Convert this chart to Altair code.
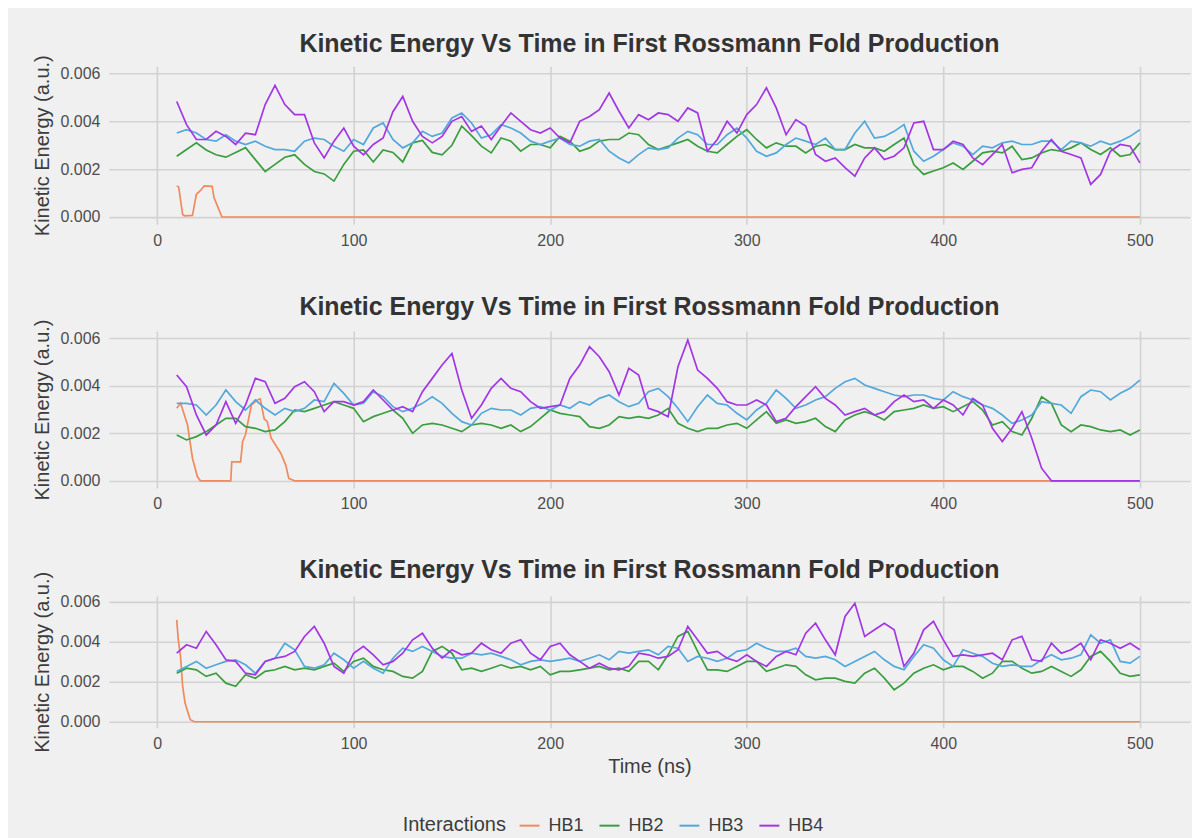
import altair as alt
import pandas as pd

TITLE = "Kinetic Energy Vs Time in First Rossmann Fold Production"
SERIES = ["HB1", "HB2", "HB3", "HB4"]
COLORS = ["#F08A5D", "#3A9E3F", "#52A8DC", "#A336E4"]
X_TICKS = [0, 100, 200, 300, 400, 500]
Y_TICKS = [0, 0.002, 0.004, 0.006]

# time axis (ns) shared by HB2..HB4
T = list(range(10, 501, 5))

# values in units of 1e-3 (a.u.)
# ---------- panel 1 ----------
P1_HB1_T = [10, 11, 13, 14, 18, 20, 22, 24, 28, 29, 31, 33, 500]
P1_HB1_V = [1.3, 1.25, 0.1, 0.05, 0.07, 0.95, 1.1, 1.3, 1.28, 0.8, 0.4, 0, 0]
P1_HB2 = [2.54, 2.82, 3.1, 2.8, 2.6, 2.5, 2.7, 2.9, 2.4, 1.9, 2.2, 2.5, 2.6, 2.2, 1.9, 1.8, 1.5, 2.2, 2.75, 2.8,
          2.3, 2.8, 2.7, 2.3, 3.1, 3.2, 2.7, 2.6, 3.0, 3.8, 3.4,
          2.96, 2.68, 3.3, 3.17, 2.75, 3.03, 3.03, 2.89, 3.37, 3.17, 2.75, 2.89, 3.17, 3.24, 3.24, 3.51, 3.44,
          3.03, 2.82, 2.96, 3.1, 3.24, 2.96, 2.75, 2.68, 3.03, 3.37, 3.65, 3.24, 2.89, 3.1, 2.96, 2.96, 2.68,
          2.96, 3.03, 2.82, 2.82, 3.03, 2.89, 2.89, 2.75, 3.03, 3.3, 2.19, 1.78, 1.92, 2.06, 2.26, 1.99, 2.33,
          2.68, 2.75, 2.68, 2.96, 2.4, 2.47, 2.68, 2.82, 2.75, 2.89, 3.1, 2.82, 2.61, 2.89, 2.54, 2.61, 3.1]
P1_HB3 = [3.51, 3.65, 3.51, 3.24, 3.17, 3.44, 3.17, 3.03, 3.17, 2.96, 2.82, 2.82, 2.75, 3.17, 3.3, 3.24, 2.96,
          2.75, 3.24, 3.03, 3.72, 3.93, 3.24, 2.89, 3.1, 3.58, 3.37, 3.51, 4.14, 4.35, 3.93,
          3.3, 3.44, 3.86, 3.72, 3.51, 3.17, 3.03, 3.17, 3.3, 3.03, 2.96, 3.17, 3.24, 2.75, 2.47, 2.26, 2.61,
          2.89, 2.82, 2.89, 3.3, 3.58, 3.44, 3.03, 3.03, 3.44, 3.72, 3.3, 2.75, 2.54, 2.68, 3.03, 3.3, 3.17,
          3.03, 3.3, 2.82, 2.82, 3.51, 4.0, 3.3, 3.37, 3.58, 3.86, 2.75, 2.33, 2.54, 2.82, 3.1, 2.96, 2.61,
          2.96, 2.89, 3.1, 3.17, 3.03, 3.03, 3.17, 3.17, 2.82, 3.17, 3.1, 2.96, 3.17, 3.03, 3.17, 3.37, 3.65]
P1_HB4 = [4.83, 3.86, 3.24, 3.24, 3.58, 3.37, 3.03, 3.5, 3.44, 4.7, 5.5, 4.7, 4.28, 4.28, 3.1, 2.47, 3.17,
          3.72, 2.96, 2.6, 3.03, 3.3, 4.4, 5.04, 4.0, 3.37, 3.1, 3.37, 4.0, 4.2, 3.58,
          3.8, 3.24, 3.8, 4.35, 4.0, 3.65, 3.51, 3.72, 3.3, 3.1, 4.0, 4.2, 4.49, 5.18, 4.42, 3.72, 4.28,
          4.07, 4.35, 4.28, 4.0, 4.56, 4.35, 2.75, 3.24, 4.0, 3.51, 4.28, 4.7, 5.4, 4.56, 3.44, 4.07, 3.8,
          2.61, 2.33, 2.47, 2.06, 1.71, 2.47, 2.89, 2.4, 2.54, 2.89, 3.93, 4.0, 2.82, 2.82, 3.17, 3.03, 2.47,
          2.19, 2.61, 3.03, 1.85, 1.99, 2.06, 2.75, 3.24, 2.75, 2.61, 2.47, 1.36, 1.78, 2.75, 3.03, 2.96, 2.26]

# ---------- panel 2 ----------
P2_HB1_T = [10, 12, 15.5, 18, 20.5, 22, 37.5, 38, 42.5, 43.5, 45, 48, 51, 52.5, 54.5, 56, 58, 63, 65.5, 67, 70, 500]
P2_HB1_V = [3.05, 3.26, 2.35, 0.95, 0.18, 0, 0, 0.8, 0.8, 1.65, 1.95, 3.2, 3.4, 3.45, 2.6, 2.5, 1.8, 1.15,
            0.65, 0.1, 0, 0]
P2_HB2 = [1.93, 1.72, 1.86, 2.07, 2.35, 2.63, 2.63, 2.28, 2.21, 2.07, 2.14, 2.49, 2.98, 2.91, 3.05, 3.19, 3.33,
          3.19, 3.05, 2.49, 2.7, 2.84, 2.98, 2.63, 2.0, 2.35, 2.42, 2.35, 2.21, 2.07, 2.35, 2.42, 2.35, 2.21,
          2.35, 2.07, 2.28, 2.63, 2.98, 2.84, 2.77, 2.7, 2.28, 2.21, 2.35, 2.7, 2.63, 2.7,
          2.63, 2.77, 3.05, 2.42, 2.21, 2.07, 2.21, 2.21, 2.35, 2.42, 2.21, 2.56, 2.91, 2.42, 2.56, 2.42, 2.49,
          2.63, 2.28, 2.07, 2.56, 2.77, 2.91, 2.77, 2.56, 2.91, 2.98, 3.05, 3.19, 3.05, 3.12, 2.91, 3.12, 3.33,
          2.98, 2.35, 2.49, 2.07, 1.93, 2.63, 3.54, 3.26, 2.35, 2.07, 2.35, 2.28, 2.14, 2.07, 2.14, 1.93, 2.14]
P2_HB3 = [3.26, 3.26, 3.19, 2.77, 3.19, 3.82, 3.33, 2.98, 3.4, 3.05, 2.77, 3.05, 2.91, 3.05, 3.4, 3.33, 4.1,
          3.68, 3.19, 3.26, 3.75, 3.54, 3.12, 2.91, 3.05, 3.26, 3.54, 3.26, 2.84, 2.49, 2.35, 2.84, 3.05, 2.98,
          2.98, 2.77, 3.05, 3.12, 2.98, 3.19, 3.05, 3.33, 3.19, 3.47, 3.61, 3.33, 3.12, 3.26,
          3.75, 3.89, 3.54, 3.05, 2.49, 3.12, 3.61, 3.26, 3.19, 2.84, 2.56, 2.98, 3.26, 3.82, 3.47, 3.05, 3.19,
          3.4, 3.54, 3.89, 4.17, 4.31, 4.03, 3.89, 3.75, 3.61, 3.54, 3.61, 3.61, 3.47, 3.4, 3.75, 3.54, 3.4,
          3.19, 3.05, 2.77, 2.42, 2.56, 2.77, 3.33, 3.26, 3.19, 2.84, 3.54, 3.82, 3.75, 3.4, 3.68, 3.89, 4.24]
P2_HB4 = [4.45, 3.96, 2.77, 1.93, 2.35, 3.33, 2.42, 3.19, 4.31, 4.17, 3.26, 3.47, 3.96, 4.17, 3.75, 2.91, 3.33,
          3.33, 3.19, 3.33, 3.82, 3.4, 2.98, 3.12, 2.91, 3.75, 4.31, 4.87, 5.36, 3.82, 2.63, 3.19, 3.89, 4.31,
          3.89, 3.75, 3.33, 3.05, 3.12, 3.19, 4.31, 4.87, 5.64, 5.22, 4.59, 3.61, 4.73, 4.45,
          3.05, 2.91, 2.7, 4.8, 5.92, 4.66, 4.31, 3.89, 3.33, 3.19, 3.19, 3.4, 3.19, 2.49, 2.63, 3.12, 3.54,
          3.96, 3.47, 3.19, 2.77, 2.91, 3.05, 2.77, 2.91, 3.33, 3.61, 3.33, 3.4, 3.05, 3.4, 3.19, 2.77, 3.47,
          3.19, 2.21, 1.65, 2.21, 2.91, 1.79, 0.53, 0, 0, 0, 0, 0, 0, 0, 0, 0, 0]

# ---------- panel 3 ----------
P3_HB1_T = [10, 10.8, 11.9, 13, 14.2, 15.6, 16.9, 19, 500]
P3_HB1_V = [5.1, 4.1, 3.3, 1.8, 0.95, 0.5, 0.1, 0, 0]
P3_HB2 = [2.43, 2.68, 2.6, 2.27, 2.43, 1.93, 1.77, 2.35, 2.18, 2.52, 2.6, 2.77, 2.6, 2.68, 2.6, 2.77, 2.93,
          2.52, 3.02, 3.18, 2.77, 2.6, 2.52, 2.27, 2.18, 2.52, 3.52, 3.77, 3.43, 2.6, 2.68, 2.52, 2.68, 2.85,
          2.68, 2.77, 2.6, 2.77, 2.35, 2.52, 2.52, 2.6, 2.68, 2.77, 2.6, 2.68, 2.52, 3.02,
          3.02, 2.6, 3.35, 4.27, 4.52, 3.52, 2.6, 2.6, 2.52, 2.77, 3.02, 3.02, 2.52, 2.68, 2.85, 2.77, 2.35,
          2.1, 2.18, 2.18, 2.02, 1.93, 2.43, 2.68, 2.18, 1.6, 1.93, 2.43, 2.68, 2.85, 2.6, 2.77, 2.77, 2.52,
          2.18, 2.43, 3.02, 3.02, 2.68, 2.43, 2.52, 2.77, 2.52, 2.27, 2.6, 3.27, 3.52, 3.02, 2.43, 2.27, 2.35]
P3_HB3 = [2.52, 2.77, 3.02, 2.68, 2.85, 3.02, 3.1, 2.85, 2.43, 3.02, 3.18, 3.93, 3.6, 2.77, 2.68, 2.85, 3.43,
          3.1, 2.68, 3.02, 2.68, 2.43, 3.18, 3.68, 3.52, 3.77, 3.52, 3.27, 3.18, 3.18, 3.43, 3.35, 3.43, 3.27,
          3.1, 2.85, 3.02, 3.1, 3.02, 3.1, 3.18, 3.02, 3.18, 3.35, 3.1, 3.52, 3.43, 3.52,
          3.6, 3.35, 3.77, 3.68, 3.02, 3.27, 3.18, 3.02, 3.18, 3.52, 3.6, 3.93, 3.68, 3.52, 3.52, 3.68, 3.27,
          3.18, 3.27, 3.1, 2.77, 3.02, 3.27, 3.52, 3.1, 2.77, 2.6, 3.27, 3.85, 3.68, 3.1, 2.77, 3.6, 3.43,
          3.27, 2.93, 2.77, 2.85, 2.77, 2.77, 3.1, 3.35, 3.1, 3.18, 3.35, 4.35, 3.93, 4.1, 3.02, 2.93, 3.27]
P3_HB4 = [3.43, 3.85, 3.68, 4.52, 3.85, 3.1, 3.02, 2.43, 2.35, 3.02, 3.18, 3.27, 3.52, 4.27, 4.77, 3.93, 2.77,
          2.43, 3.43, 3.77, 3.35, 2.85, 3.02, 3.43, 4.1, 4.43, 3.68, 3.18, 3.6, 3.35, 3.43, 3.93, 3.6, 3.43,
          3.93, 4.1, 3.43, 3.1, 3.77, 3.93, 3.35, 3.02, 2.68, 2.93, 2.68, 2.6, 2.77, 3.43,
          3.35, 3.18, 3.27, 3.6, 4.77, 4.1, 3.43, 3.52, 3.18, 3.02, 3.35, 3.02, 2.77, 3.27, 3.52, 3.35, 4.43,
          4.93, 4.1, 3.35, 5.27, 5.93, 4.27, 4.6, 4.93, 4.6, 2.77, 3.43, 4.6, 5.02, 4.1, 3.27, 3.35, 3.27,
          3.35, 3.43, 3.1, 4.1, 4.27, 3.1, 3.02, 3.93, 3.43, 3.6, 3.93, 3.1, 4.1, 3.93, 3.68, 3.93, 3.6]


def panel_df(hb1_t, hb1_v, hb2, hb3, hb4):
    rows = []
    for t, v in zip(hb1_t, hb1_v):
        rows.append((t, v * 1e-3, "HB1"))
    for name, vals in (("HB2", hb2), ("HB3", hb3), ("HB4", hb4)):
        assert len(vals) == len(T), (name, len(vals))
        for t, v in zip(T, vals):
            rows.append((t, v * 1e-3, name))
    return pd.DataFrame(rows, columns=["time", "ke", "Interactions"])


def panel(df, height, xtitle, title_offset):
    xaxis_kw = dict(values=X_TICKS, format="d", title=xtitle if xtitle else "")
    return alt.Chart(df).mark_line(strokeWidth=1.7).encode(
        x=alt.X("time:Q", scale=alt.Scale(domain=[-24.5, 525.5], nice=False, zero=False),
                axis=alt.Axis(**xaxis_kw)),
        y=alt.Y("ke:Q", scale=alt.Scale(domain=[-0.0003, 0.0063], nice=False),
                axis=alt.Axis(values=Y_TICKS, format=".3f", title="Kinetic Energy (a.u.)")),
        color=alt.Color("Interactions:N", scale=alt.Scale(domain=SERIES, range=COLORS),
                        legend=alt.Legend(orient="none", legendX=290, legendY=745,
                                          direction="horizontal", columns=4,
                                          title="Interactions", titleOrient="left",
                                          symbolType="stroke", symbolSize=400, symbolStrokeWidth=2,
                                          labelFontSize=18, titleFontSize=20, titleFontWeight="normal",
                                          labelOffset=8, columnPadding=11, titlePadding=12,
                                          padding=4, fillColor="#F0F0F0",
                                          labelColor="#3C3C3C", titleColor="#3C3C3C",
                                          labelFont="Liberation Sans", titleFont="Liberation Sans")),
    ).properties(width=1082, height=height,
                 title=alt.TitleParams(TITLE, frame="group", anchor="middle", offset=title_offset))


p1 = panel(panel_df(P1_HB1_T, P1_HB1_V, P1_HB2, P1_HB3, P1_HB4), 158, None, -2)
p2 = panel(panel_df(P2_HB1_T, P2_HB1_V, P2_HB2, P2_HB3, P2_HB4), 157, None, -1)
p3 = panel(panel_df(P3_HB1_T, P3_HB1_V, P3_HB2, P3_HB3, P3_HB4), 132, "Time (ns)", -12)

chart = alt.vconcat(p1, p2, p3, spacing=46).resolve_scale(color="shared").properties(
    background="#F0F0F0",
    padding={"left": 24, "top": 23, "right": 2, "bottom": 0},
).configure_view(stroke=None).configure_axis(
    domain=False, ticks=False, grid=True, gridColor="#D2D2D2", gridWidth=1.6,
    labelFont="Liberation Sans", labelFontSize=16, labelColor="#4D4D4D",
    titleFont="Liberation Sans", titleFontSize=20, titleColor="#3C3C3C", titleFontWeight="normal",
).configure_axisX(labelPadding=8, titlePadding=5).configure_axisY(labelPadding=9, titlePadding=7).configure_title(
    font="Liberation Sans", fontSize=25, fontWeight="bold", color="#333333"
)

chart.save("out.html", embed_options={"renderer": "svg", "actions": False})
